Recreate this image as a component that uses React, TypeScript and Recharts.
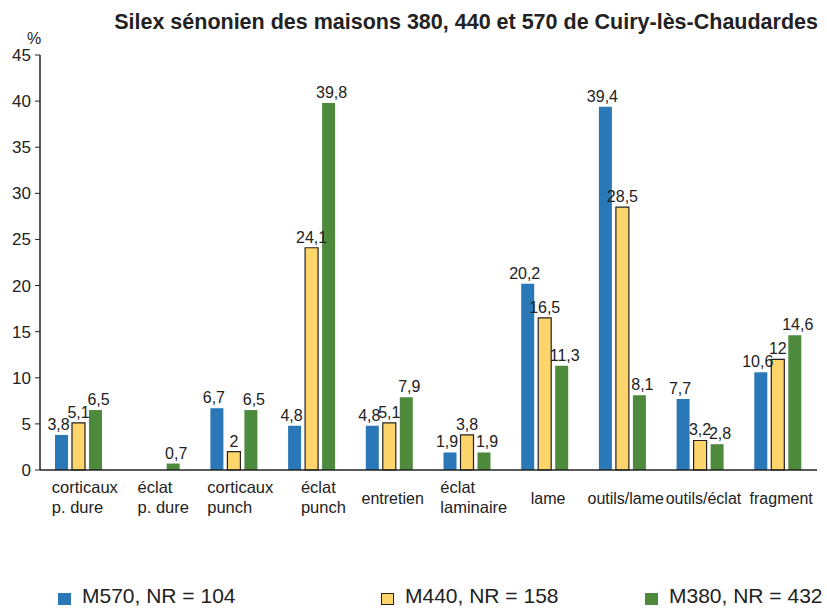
import { Bar, BarChart, XAxis, YAxis, LabelList } from 'recharts';

const categories = [
  'corticaux\np. dure',
  'éclat\np. dure',
  'corticaux\npunch',
  'éclat\npunch',
  'entretien',
  'éclat\nlaminaire',
  'lame',
  'outils/lame',
  'outils/éclat',
  'fragment',
];
const m570 = [3.8, null, 6.7, 4.8, 4.8, 1.9, 20.2, 39.4, 7.7, 10.6];
const m440 = [5.1, null, 2, 24.1, 5.1, 3.8, 16.5, 28.5, 3.2, 12];
const m380 = [6.5, 0.7, 6.5, 39.8, 7.9, 1.9, 11.3, 8.1, 2.8, 14.6];
const yTicks = [0, 5, 10, 15, 20, 25, 30, 35, 40, 45];
const seriesNames = ['M570, NR = 104', 'M440, NR = 158', 'M380, NR = 432'];

const data = categories.map((c, i) => ({ cat: c, m570: m570[i], m440: m440[i], m380: m380[i] }));

const BLUE = '#2a78b8';
const YELLOW = '#fdd56a';
const GREEN = '#4d8a3c';
const TEXT = '#222';
const FONT = '"Liberation Sans", Arial, sans-serif';

const fmt = (v: any) => (v == null ? '' : String(v).replace('.', ','));

// multi-line labels are left-aligned, block roughly centred on the group
function CatTick({ x, y, payload }: any) {
  const lines = String(payload.value).split('\n');
  if (lines.length === 1) {
    return (
      <text x={x + 3} y={y + 26} fill={TEXT} fontSize={16} fontFamily={FONT} textAnchor="middle">
        {lines[0]}
      </text>
    );
  }
  const maxLen = Math.max(...lines.map((l) => l.length));
  const startX = x + 9 - (maxLen * 8) / 2;
  return (
    <text x={startX} y={y + 15} fill={TEXT} fontSize={16.5} fontFamily={FONT} textAnchor="start">
      {lines.map((l, i) => (
        <tspan key={i} x={startX} dy={i === 0 ? 0 : 20}>
          {l}
        </tspan>
      ))}
    </text>
  );
}

function ChartLegend() {
  const colors = [BLUE, YELLOW, GREEN];
  const lefts = [58, 381, 645];
  return (
    <div style={{ position: 'absolute', left: 0, top: 584, width: 827, height: 26, fontFamily: FONT }}>
      {seriesNames.map((n, i) => (
        <div key={n} style={{ position: 'absolute', left: lefts[i], top: 0, height: 24 }}>
          <span
            style={{
              position: 'absolute',
              left: 0,
              top: 9,
              width: 13,
              height: 12,
              background: colors[i],
              border: i === 1 ? '1px solid #222' : 'none',
              boxSizing: 'border-box',
            }}
          />
          <span style={{ position: 'absolute', left: 24, top: 0, fontSize: 21, color: TEXT, whiteSpace: 'nowrap', lineHeight: '24px' }}>
            {n}
          </span>
        </div>
      ))}
    </div>
  );
}

export default function App() {
  return (
    <div style={{ position: 'absolute', left: 0, top: 0, width: 827, height: 610, background: '#fff' }}>
      <BarChart
        width={827}
        height={610}
        data={data}
        margin={{ top: 55, right: 10, left: 0, bottom: 80 }}
        barGap={4}
        barSize={13}
      >
        <text x={818} y={29} textAnchor="end" fontSize={21.5} fontWeight="bold" fill={TEXT} fontFamily={FONT}>
          Silex sénonien des maisons 380, 440 et 570 de Cuiry-lès-Chaudardes
        </text>
        <text x={34} y={44} textAnchor="middle" fontSize={16} fill={TEXT} fontFamily={FONT}>
          %
        </text>
        <XAxis
          dataKey="cat"
          tickLine={false}
          axisLine={{ stroke: TEXT, strokeWidth: 1.5 }}
          tick={<CatTick />}
          interval={0}
          height={60}
        />
        <YAxis
          width={40}
          domain={[0, 45]}
          ticks={yTicks}
          interval={0}
          tickSize={5}
          tickMargin={4}
          axisLine={{ stroke: TEXT, strokeWidth: 1.5 }}
          tickLine={{ stroke: TEXT }}
          tick={{ fill: TEXT, fontSize: 17, fontFamily: FONT }}
        />
        <Bar dataKey="m570" fill={BLUE} isAnimationActive={false}>
          <LabelList dataKey="m570" position="top" offset={5} dx={-3} formatter={fmt} fill={TEXT} fontSize={16} fontFamily={FONT} />
        </Bar>
        <Bar dataKey="m440" fill={YELLOW} stroke="#222" strokeWidth={1.2} isAnimationActive={false}>
          <LabelList dataKey="m440" position="top" offset={5} formatter={fmt} fill={TEXT} fontSize={16} fontFamily={FONT} />
        </Bar>
        <Bar dataKey="m380" fill={GREEN} isAnimationActive={false}>
          <LabelList dataKey="m380" position="top" offset={5} dx={3} formatter={fmt} fill={TEXT} fontSize={16} fontFamily={FONT} />
        </Bar>
      </BarChart>
      <ChartLegend />
    </div>
  );
}
